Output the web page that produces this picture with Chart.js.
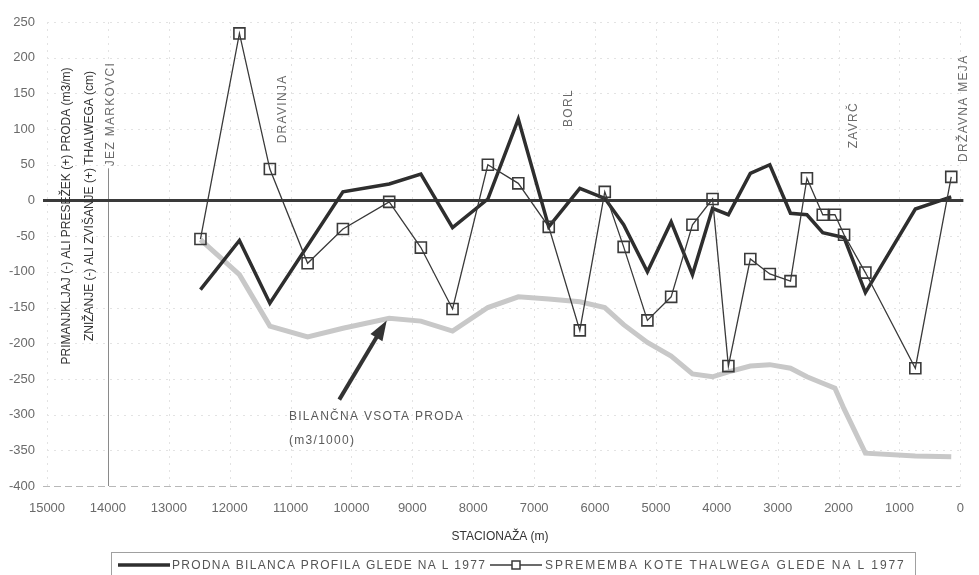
<!DOCTYPE html>
<html>
<head>
<meta charset="utf-8">
<script src="https://cdn.jsdelivr.net/npm/chart.js@4.4.0/dist/chart.umd.min.js"></script>
<style>
  html, body { margin: 0; padding: 0; background: #fff; }
  #wrap { width: 979px; height: 575px; position: relative; }
</style>
</head>
<body>
<div id="wrap"><canvas id="c"></canvas></div>
<script>
// Stationing of the surveyed cross-sections (m)
const stations = [12480, 11840, 11340, 10720, 10140, 9380, 8860, 8340, 7760, 7260,
                  6760, 6250, 5840, 5530, 5140, 4750, 4400, 4070, 3810, 3450,
                  3130, 2790, 2520, 2260, 2060, 1910, 1560, 740, 150];

// Gravel balance of each profile vs. 1977 (m3/m)
const profileBalance = [-125, -56, -144, null, 12, 23, 37, -38, 2, 114,
                        -37, 17, 3, -34, -100, -30, -104, -11, -20, 38,
                        50, -18, -20, -45, null, -52, -129, -12, 5];

// Change of the thalweg level vs. 1977 (cm)
const thalwegChange = [-54, 234, 44, -88, -40, -2, -66, -152, 50, 24,
                       -37, -182, 12, -65, -168, -135, -34, 2, -232, -82,
                       -103, -113, 31, -20, -20, -48, -101, -235, 33];

// Cumulative gravel balance (m3/1000)
const cumulativeBalance = [-55, -104, -176, -191, -179, -165, -169, -183, -150, -135,
                           -138, -142, -150, -174, -199, -218, -243, -247, -240, -232,
                           -230, -235, -247, -256, -263, -292, -354, -358, -359];

// Places along the river
const placeNames = ['JEZ MARKOVCI', 'DRAVINJA', 'BORL', 'ZAVRČ', 'DRŽAVNA MEJA'];
const placeStations = [14000, 11130, 6430, 1750, -50];

// Axis ranges
const xRange = [0, 15000, 1000];
const yRange = [-400, 250, 50];

const legendLabels = ['PRODNA BILANCA PROFILA GLEDE NA L 1977', 'SPREMEMBA KOTE THALWEGA GLEDE NA L 1977'];
const yTitleLines = ['PRIMANJKLJAJ (-) ALI PRESEŽEK (+) PRODA (m3/m)', 'ZNIŽANJE (-) ALI ZVIŠANJE (+) THALWEGA (cm)'];
const xTitle = 'STACIONAŽA (m)';
const noteLines = ['BILANČNA VSOTA PRODA', '(m3/1000)'];

const FONT = "'Liberation Sans', Arial, sans-serif";
const toXY = vals => stations.map((s, i) => ({ x: s, y: vals[i] }));

// Drawing settings for the extra decorations (in data units where tied to the axes)
const deco = {
  placeLabelBase: [48, 80, 103, 73, 54],   // value where each rotated label starts
  damLineTop: 45,
  arrowFrom: { x: 10200, y: -279 },
  arrowTo:   { x: 9421,  y: -168 },
  notePos:   [{ x: 11027, y: -303 }, { x: 11027, y: -336 }]
};

function seg(ctx, x1, y1, x2, y2) {
  ctx.beginPath(); ctx.moveTo(x1, y1); ctx.lineTo(x2, y2); ctx.stroke();
}

const decorations = {
  id: 'decorations',
  beforeDatasetsDraw(chart) {
    const { ctx, chartArea: a, scales: { x, y } } = chart;
    ctx.save();
    // faint dotted grid
    ctx.lineWidth = 1;
    ctx.strokeStyle = '#e3e3e3';
    ctx.setLineDash([2, 5]);
    for (let v = yRange[0] + yRange[2]; v <= yRange[1]; v += yRange[2]) {
      if (v === 0) continue;
      const py = Math.round(y.getPixelForValue(v)) + 0.5;
      seg(ctx, a.left, py, a.right, py);
    }
    for (let s = xRange[0]; s <= xRange[1]; s += xRange[2]) {
      const px = Math.round(x.getPixelForValue(s)) + 0.5;
      seg(ctx, px, a.top, px, a.bottom);
    }
    // bottom line
    ctx.strokeStyle = '#b8b8b8';
    ctx.setLineDash([7, 4]);
    const pb = Math.round(y.getPixelForValue(yRange[0])) + 0.5;
    seg(ctx, a.left - 4, pb, a.right, pb);
    ctx.setLineDash([]);
    // dam line
    ctx.strokeStyle = '#8a8a8a';
    const pd = Math.round(x.getPixelForValue(placeStations[0])) + 0.5;
    seg(ctx, pd, y.getPixelForValue(deco.damLineTop), pd, a.bottom);
    // zero line
    ctx.strokeStyle = '#3a3a3a';
    ctx.lineWidth = 3;
    const p0 = y.getPixelForValue(0);
    seg(ctx, a.left - 4, p0, a.right + 3, p0);
    ctx.restore();
  },
  afterDraw(chart) {
    const { ctx, chartArea: a, scales: { x, y } } = chart;
    ctx.save();
    // rotated place labels
    ctx.font = '12px ' + FONT;
    ctx.fillStyle = '#6a6a6a';
    ctx.letterSpacing = '1.3px';
    ctx.textAlign = 'left';
    ctx.textBaseline = 'middle';
    placeNames.forEach((name, i) => {
      const px = x.getPixelForValue(placeStations[i]) + (i === 0 ? 3 : 0);
      const py = y.getPixelForValue(deco.placeLabelBase[i]);
      ctx.save();
      ctx.translate(px, py);
      ctx.rotate(-Math.PI / 2);
      ctx.fillText(name, 0, 0);
      ctx.restore();
    });

    // arrow to the cumulative line
    const ax1 = x.getPixelForValue(deco.arrowFrom.x), ay1 = y.getPixelForValue(deco.arrowFrom.y);
    const ax2 = x.getPixelForValue(deco.arrowTo.x), ay2 = y.getPixelForValue(deco.arrowTo.y);
    const ang = Math.atan2(ay2 - ay1, ax2 - ax1);
    const headLen = 20, headW = 7;
    const bx = ax2 - headLen * Math.cos(ang), by = ay2 - headLen * Math.sin(ang);
    ctx.strokeStyle = '#333';
    ctx.fillStyle = '#333';
    ctx.lineWidth = 4;
    seg(ctx, ax1, ay1, bx + 2 * Math.cos(ang), by + 2 * Math.sin(ang));
    ctx.beginPath();
    ctx.moveTo(ax2, ay2);
    ctx.lineTo(bx + headW * Math.sin(ang), by - headW * Math.cos(ang));
    ctx.lineTo(bx - headW * Math.sin(ang), by + headW * Math.cos(ang));
    ctx.closePath();
    ctx.fill();

    // note text
    ctx.fillStyle = '#5a5a5a';
    ctx.font = '12px ' + FONT;
    ctx.letterSpacing = '1.3px';
    noteLines.forEach((t, i) => {
      ctx.fillText(t, x.getPixelForValue(deco.notePos[i].x), y.getPixelForValue(deco.notePos[i].y));
    });

    // y-axis title (two rotated lines)
    ctx.letterSpacing = '0px';
    ctx.fillStyle = '#333';
    ctx.textAlign = 'center';
    [[67, 216], [90, 206]].forEach((p, i) => {
      ctx.save();
      ctx.translate(p[0], p[1]);
      ctx.rotate(-Math.PI / 2);
      ctx.fillText(yTitleLines[i], 0, 0);
      ctx.restore();
    });

    // x-axis title
    ctx.fillStyle = '#333';
    ctx.font = '12px ' + FONT;
    ctx.fillText(xTitle, 500, 537);

    // legend
    ctx.strokeStyle = '#a0a0a0';
    ctx.lineWidth = 1;
    ctx.strokeRect(111.5, 552.5, 804, 30);
    const ly = 565;
    ctx.strokeStyle = '#2e2e2e';
    ctx.lineWidth = 3.5;
    seg(ctx, 118, ly, 170, ly);
    ctx.strokeStyle = '#3a3a3a';
    ctx.lineWidth = 1.3;
    seg(ctx, 490, ly, 542, ly);
    ctx.lineWidth = 1.5;
    ctx.strokeStyle = '#3a3a3a';
    ctx.fillStyle = '#fff';
    ctx.fillRect(512, ly - 4, 8, 8);
    ctx.strokeRect(512, ly - 4, 8, 8);
    ctx.fillStyle = '#555';
    ctx.textAlign = 'left';
    ctx.letterSpacing = '1.3px';
    ctx.fillText(legendLabels[0], 172, ly + 1);
    ctx.letterSpacing = '1.9px';
    ctx.fillText(legendLabels[1], 545, ly + 1);
    ctx.restore();
  }
};

new Chart(document.getElementById('c'), {
  type: 'line',
  data: {
    datasets: [
      {
        label: legendLabels[1],
        data: toXY(thalwegChange),
        borderColor: '#3a3a3a',
        borderWidth: 1.3,
        pointStyle: 'rect',
        pointRadius: 7.8,
        pointBorderWidth: 1.6,
        pointBorderColor: '#3a3a3a',
        pointBackgroundColor: 'rgba(0,0,0,0)',
        tension: 0,
        order: 0
      },
      {
        label: legendLabels[0],
        data: toXY(profileBalance),
        borderColor: '#2e2e2e',
        borderWidth: 3.5,
        pointRadius: 0,
        spanGaps: true,
        tension: 0,
        order: 1
      },
      {
        label: noteLines[0],
        data: toXY(cumulativeBalance),
        borderColor: '#c8c8c8',
        borderWidth: 5,
        pointRadius: 0,
        tension: 0,
        order: 2
      }
    ]
  },
  options: {
    responsive: true,
    maintainAspectRatio: false,
    animation: false,
    layout: { padding: { top: 22, right: 7, bottom: 0, left: 0 } },
    plugins: { legend: { display: false }, tooltip: { enabled: false } },
    scales: {
      x: {
        type: 'linear',
        reverse: true,
        min: xRange[0], max: xRange[1],
        afterFit: s => { s.height = 89; },
        grid: { display: false, drawTicks: false },
        border: { display: false },
        ticks: {
          stepSize: xRange[2],
          autoSkip: false,
          maxRotation: 0,
          padding: 15,
          color: '#6a6a6a',
          font: { family: FONT, size: 13 },
          callback: v => String(v)
        }
      },
      y: {
        min: yRange[0], max: yRange[1],
        afterFit: s => { s.width = 47; },
        grid: { display: false, drawTicks: false },
        border: { display: false },
        ticks: {
          stepSize: yRange[2],
          padding: 12,
          color: '#6a6a6a',
          font: { family: FONT, size: 13 }
        }
      }
    }
  },
  plugins: [decorations]
});
</script>
</body>
</html>
